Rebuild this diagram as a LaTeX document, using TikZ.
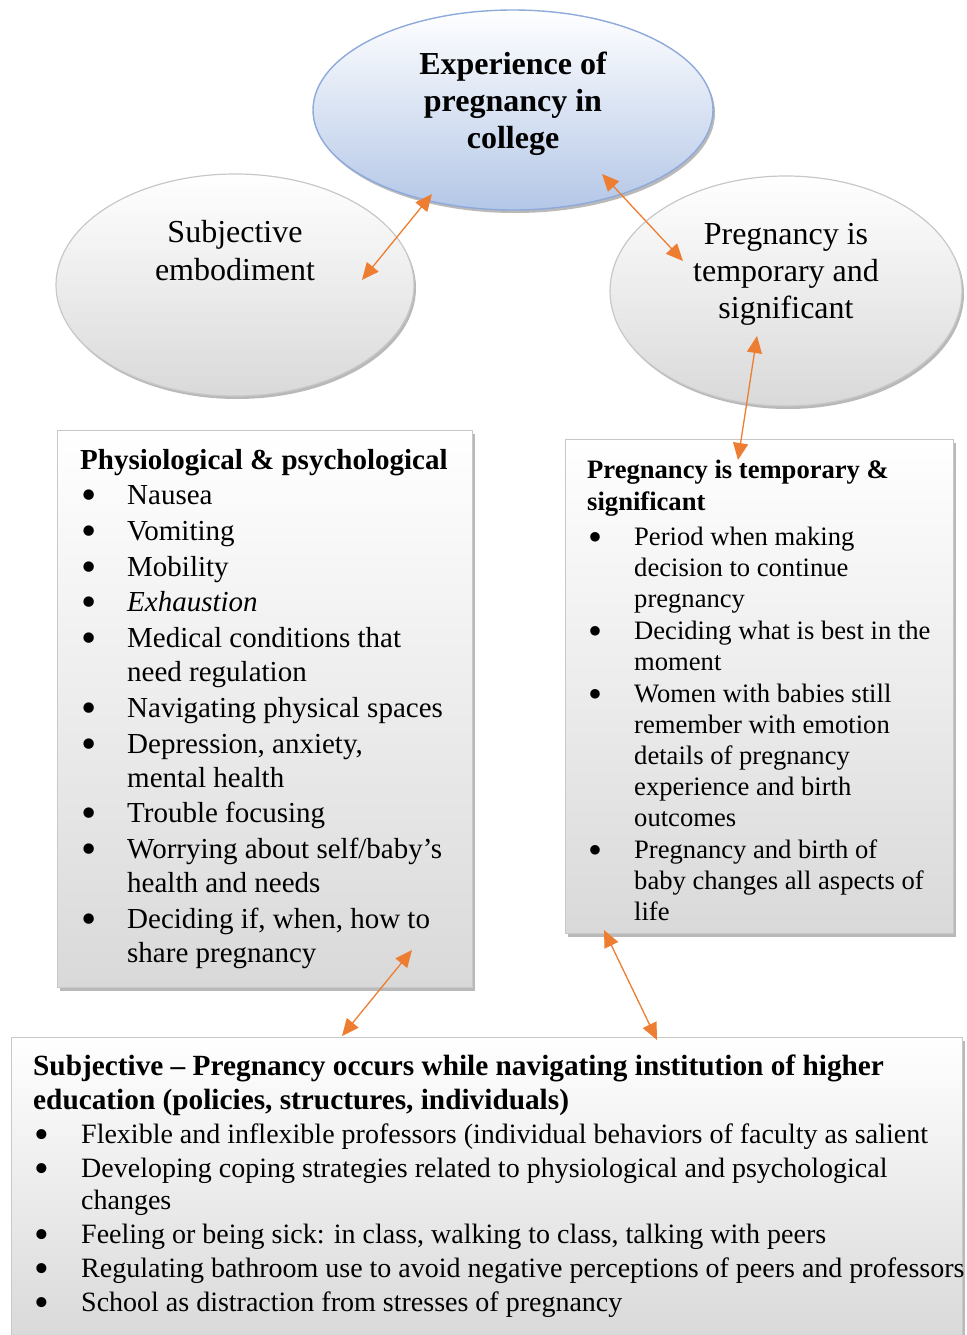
\documentclass[tikz,border=0pt]{standalone}
\usepackage{fontspec}
\setmainfont{Liberation Serif}
\usepackage{xcolor}
\usetikzlibrary{arrows.meta, shapes.geometric, shadows}
\usetikzlibrary{positioning}

\definecolor{linkorange}{HTML}{ED7D31}
\definecolor{topblue}{HTML}{B4C7E7}
\definecolor{edgeblue}{HTML}{8EAADB}
\definecolor{edgegray}{HTML}{C8C8C8}
\definecolor{shadegray}{HTML}{D9D9D9}

\renewcommand{\arraystretch}{1}
\newcommand{\bul}{\hspace*{1pt}\smash{\raisebox{-0.2em}{\scalebox{1.5}{\textbullet}}}}

\begin{document}
\begin{tikzpicture}[x=1pt, y=-1pt,
    shadowed/.style={drop shadow={shadow xshift=2pt, shadow yshift=-3pt, fill=gray!55, opacity=1}},
    topell/.style={ellipse, draw=edgeblue, line width=1.4pt, top color=white, bottom color=topblue,
        minimum width=400pt, minimum height=200pt, inner sep=0pt, shadowed},
    grayell/.style={ellipse, draw=edgegray, line width=1.2pt, top color=white, bottom color=shadegray,
        inner sep=0pt, shadowed},
    themebox/.style={rectangle, draw=edgegray, line width=1.2pt, top color=white, bottom color=shadegray,
        anchor=north west, inner sep=0pt, shadowed},
    boxtext/.style={anchor=base west, inner sep=0pt},
    link/.style={draw=linkorange, line width=1.3pt, {Triangle[length=17pt,width=15pt]}-{Triangle[length=17pt,width=15pt]}}]

    \useasboundingbox (0,0) rectangle (966,1335);

    % ellipses
    \node[grayell, minimum width=358pt, minimum height=222pt] (embody) at (235,285) {};
    \node[grayell, minimum width=352pt, minimum height=230pt] (tempell) at (786,291) {};
    \node[topell] (exp) at (513,110) {};

    \node[anchor=base, inner sep=0pt, font=\fontsize{32}{37}\selectfont\bfseries] (exptext) at (513,75)
        {\begin{tabular}[t]{@{}c@{}}Experience of\\ pregnancy in\\ college\end{tabular}};
    \node[anchor=base, inner sep=0pt, font=\fontsize{32}{38}\selectfont] (embodytext) at (235,242)
        {\begin{tabular}[t]{@{}c@{}}Subjective\\ embodiment\end{tabular}};
    \node[anchor=base, inner sep=0pt, font=\fontsize{32}{37}\selectfont] (temptext) at (786,244)
        {\begin{tabular}[t]{@{}c@{}}Pregnancy is\\ temporary and\\ significant\end{tabular}};

    % boxes
    \node[themebox, minimum width=415pt, minimum height=557pt] (physbox) at (57,430) {};
    \node[themebox, minimum width=388pt, minimum height=494pt] (signbox) at (565,439) {};
    \node[themebox, minimum width=951pt, minimum height=300pt] (schoolbox) at (11,1037) {};

    \node[boxtext, font=\fontsize{29}{34}\selectfont] (phystext) at (80,469)
        {\begin{tabular}[t]{@{}p{47pt}@{}l@{}}
        \multicolumn{2}{@{}l@{}}{\textbf{Physiological \& psychological}}\\[1pt]
        \bul & Nausea\\[2pt]
        \bul & Vomiting\\[2pt]
        \bul & Mobility\\[1pt]
        \bul & \textit{Exhaustion}\\[2pt]
        \bul & Medical conditions that\\
             & need regulation\\[2pt]
        \bul & Navigating physical spaces\\[2pt]
        \bul & Depression, anxiety,\\
             & mental health\\[1pt]
        \bul & Trouble focusing\\[2pt]
        \bul & Worrying about self/baby's\\
             & health and needs\\[2pt]
        \bul & Deciding if, when, how to\\
             & share pregnancy
        \end{tabular}};

    \node[boxtext, font=\fontsize{26.6}{31}\selectfont] (signtext) at (587,478)
        {\begin{tabular}[t]{@{}p{47pt}@{}l@{}}
        \multicolumn{2}{@{}l@{}}{\textbf{Pregnancy is temporary \&}}\\[1pt]
        \multicolumn{2}{@{}l@{}}{\textbf{significant}}\\[4pt]
        \bul & Period when making\\
             & decision to continue\\
             & pregnancy\\[1pt]
        \bul & Deciding what is best in the\\
             & moment\\[1pt]
        \bul & Women with babies still\\
             & remember with emotion\\
             & details of pregnancy\\
             & experience and birth\\
             & outcomes\\[1pt]
        \bul & Pregnancy and birth of\\
             & baby changes all aspects of\\
             & life
        \end{tabular}};

    \node[boxtext, font=\fontsize{28}{34}\selectfont] (schooltext) at (33,1075)
        {\begin{tabular}[t]{@{}p{48pt}@{}l@{}}
        \multicolumn{2}{@{}l@{}}{\fontsize{29.3}{34}\selectfont\textbf{Subjective -- Pregnancy occurs while navigating institution of higher}}\\
        \multicolumn{2}{@{}l@{}}{\fontsize{29.3}{34}\selectfont\textbf{education (policies, structures, individuals)}}\\
        \bul & Flexible and inflexible professors (individual behaviors of faculty as salient\\
        \bul & Developing coping strategies related to physiological and psychological\\[-2pt]
             & changes\\
        \bul & Feeling or being sick: in class, walking to class, talking with peers\\
        \bul & Regulating bathroom use to avoid negative perceptions of peers and professors\\
        \bul & School as distraction from stresses of pregnancy
        \end{tabular}};

    % connectors
    \coordinate (embodyend) at (362,280);
    \coordinate (expleft) at (432,194);
    \coordinate (expright) at (602,174);
    \coordinate (tempend) at (683,261);
    \coordinate (tempbottom) at (757,336);
    \coordinate (signtop) at (738,460);
    \coordinate (physend) at (412,950);
    \coordinate (schoolleft) at (342,1036);
    \coordinate (signbottom) at (604,930);
    \coordinate (schoolright) at (657,1040);

    \draw[link] (embodyend) -- (expleft);
    \draw[link] (expright) -- (tempend);
    \draw[link] (tempbottom) -- (signtop);
    \draw[link] (physend) -- (schoolleft);
    \draw[link] (signbottom) -- (schoolright);
\end{tikzpicture}
\end{document}
